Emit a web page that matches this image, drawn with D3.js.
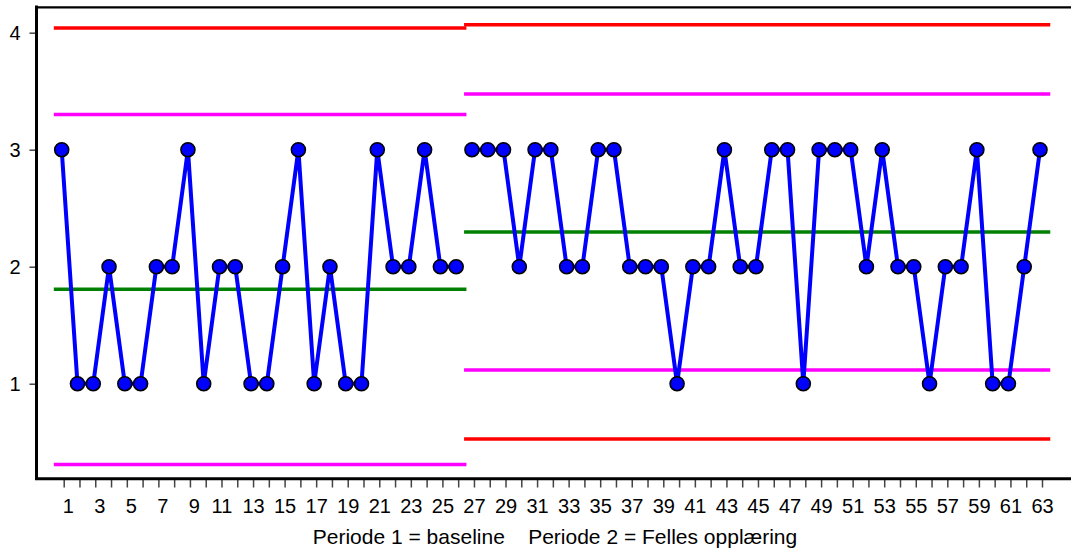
<!DOCTYPE html>
<html>
<head>
<meta charset="utf-8">
<script src="https://cdn.jsdelivr.net/npm/d3@7"></script>
<style>
  html, body { margin: 0; padding: 0; background: #fff; }
  svg { display: block; }
  text { font-family: Arial, "Liberation Sans", sans-serif; fill: #000; }
</style>
</head>
<body>
<svg id="chart" width="1071" height="554"></svg>
<script>
// Observations per period (run chart with control limits)
const period1Points = d3.range(1, 27);
const period1Values = [3,1,1,2,1,1,2,2,3,1,2,2,1,1,2,3,1,2,1,1,3,2,2,3,2,2];
const period2Points = d3.range(27, 64);
const period2Values = [3,3,3,2,3,3,2,2,3,3,2,2,2,1,2,2,3,2,2,3,3,1,3,3,3,2,3,2,2,1,2,2,3,1,1,2,3];

// Limit levels per period: [period 1, period 2]
const periodRanges = [[1, 26], [27, 63]];
const centreLine = [1.808, 2.297];
const upperControl = [4.04, 4.067];
const upperWarning = [3.30, 3.476];
const lowerWarning = [0.31, 1.117];
const lowerControl = [null, 0.527];

const yTicks = [1, 2, 3, 4];
const xTicks = d3.range(1, 64);
const caption = "Periode 1 = baseline    Periode 2 = Felles opplæring";

const svg = d3.select("#chart");

const x = d3.scaleLinear().domain([1, 63]).range([61.7, 1040]);
const y = d3.scaleLinear().domain([0.19, 4.217]).range([478.5, 7.3]);

// Limit lines, one segment per period
const limitSets = [
  { values: lowerControl, color: "#ff0000" },
  { values: upperControl, color: "#ff0000" },
  { values: lowerWarning, color: "#ff00ff" },
  { values: upperWarning, color: "#ff00ff" },
  { values: centreLine, color: "#008000" }
];
const limitG = svg.append("g");
limitSets.forEach(set => {
  set.values.forEach((v, i) => {
    if (v === null) return;
    const [a, b] = periodRanges[i];
    limitG.append("line")
      .attr("x1", x(a - 0.5)).attr("x2", x(b + 0.65))
      .attr("y1", y(v)).attr("y2", y(v))
      .attr("stroke", set.color)
      .attr("stroke-width", 3.5);
  });
});

// Series line, broken between periods
const line = d3.line().x(d => x(d[0])).y(d => y(d[1]));
const series = [
  d3.zip(period1Points, period1Values),
  d3.zip(period2Points, period2Values)
];
series.forEach(s => {
  svg.append("path")
    .attr("d", line(s))
    .attr("fill", "none")
    .attr("stroke", "#0000ff")
    .attr("stroke-width", 4)
    .attr("stroke-linejoin", "round");
});

// Markers
svg.append("g").selectAll("circle")
  .data(series.flat())
  .join("circle")
  .attr("cx", d => x(d[0]))
  .attr("cy", d => y(d[1]))
  .attr("r", 7)
  .attr("fill", "#0000ff")
  .attr("stroke", "#000")
  .attr("stroke-width", 1.6);

// Y axis
const yAxis = svg.append("g")
  .attr("transform", "translate(36.5,0)")
  .call(d3.axisLeft(y).tickValues(yTicks).tickFormat(d3.format("d")).tickSize(7).tickPadding(9));
yAxis.select(".domain").remove();
yAxis.selectAll(".tick line").attr("stroke", "#444").attr("stroke-width", 1.5);
yAxis.selectAll(".tick text").attr("font-size", 20).attr("dy", "0.36em");

// X axis
const xAxis = svg.append("g")
  .attr("transform", "translate(2,478.5)")
  .call(d3.axisBottom(x).tickValues(xTicks).tickFormat(d => d % 2 ? d : "").tickSize(9).tickPadding(11));
xAxis.select(".domain").remove();
xAxis.selectAll(".tick line").attr("stroke", "#444").attr("stroke-width", 1.5);
xAxis.selectAll(".tick text")
  .attr("font-size", 20)
  .attr("dx", d => d < 10 ? 4 : 0);

// Frame lines
svg.append("line").attr("x1", 36.5).attr("x2", 1071).attr("y1", 7.3).attr("y2", 7.3)
  .attr("stroke", "#000").attr("stroke-width", 2.2);
svg.append("line").attr("x1", 36.5).attr("x2", 36.5).attr("y1", 5.5).attr("y2", 480)
  .attr("stroke", "#000").attr("stroke-width", 3);
svg.append("line").attr("x1", 35).attr("x2", 1071).attr("y1", 478.8).attr("y2", 478.8)
  .attr("stroke", "#000").attr("stroke-width", 3);

// Caption
svg.append("text")
  .attr("x", 555).attr("y", 544)
  .attr("text-anchor", "middle")
  .attr("font-size", 21)
  .style("white-space", "pre")
  .text(caption);
</script>
</body>
</html>
